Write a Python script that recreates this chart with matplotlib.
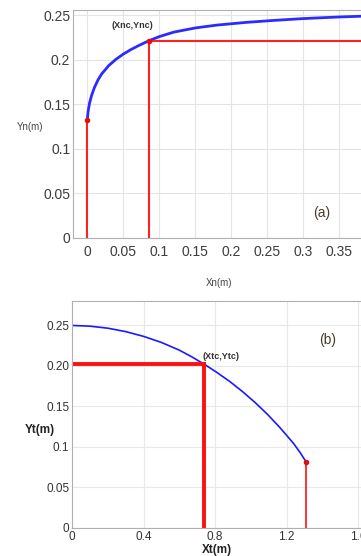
import matplotlib.pyplot as plt

plt.rcParams['font.family'] = ['Liberation Sans', 'DejaVu Sans']

# panel (a): curve
xn = [0.0, 0.001, 0.003, 0.006, 0.01, 0.015, 0.02, 0.03, 0.04, 0.05, 0.06, 0.07, 0.085,
      0.1, 0.12, 0.15, 0.18, 0.22, 0.26, 0.3, 0.35, 0.42]
yn = [0.132, 0.1415, 0.151, 0.160, 0.169, 0.1775, 0.184, 0.1935, 0.2005, 0.2062, 0.211,
      0.2152, 0.221, 0.2258, 0.2308, 0.2355, 0.2387, 0.2417, 0.244, 0.246, 0.2478, 0.2497]
xnc, ync = 0.085, 0.221
xn0, yn0 = 0.0, 0.132
xn_ticks = [0, 0.05, 0.1, 0.15, 0.2, 0.25, 0.3, 0.35]
xn_labels = ['0', '0.05', '0.1', '0.15', '0.2', '0.25', '0.3', '0.35']
yn_ticks = [0, 0.05, 0.1, 0.15, 0.2, 0.25]
yn_labels = ['0', '0.05', '0.1', '0.15', '0.2', '0.25']

# panel (b)
xt = [0.0, 0.1, 0.2, 0.3, 0.4, 0.5, 0.6, 0.67, 0.74, 0.81, 0.884, 0.955, 1.024, 1.094,
      1.164, 1.238, 1.274, 1.309]
yt = [0.250, 0.2491, 0.2466, 0.2424, 0.2365, 0.229, 0.2195, 0.2112, 0.202, 0.192, 0.1805,
      0.168, 0.1548, 0.140, 0.1235, 0.1045, 0.0935, 0.0815]
xtc, ytc = 0.74, 0.202
xt1, yt1 = 1.309, 0.0815
xt_ticks = [0, 0.4, 0.8, 1.2, 1.6]
xt_labels = ['0', '0.4', '0.8', '1.2', '1.6']
yt_ticks = [0, 0.05, 0.1, 0.15, 0.2, 0.25]
yt_labels = ['0', '0.05', '0.1', '0.15', '0.20', '0.25']

fig = plt.figure(figsize=(3.61, 5.56), dpi=100)

# ---- (a)
ax1 = fig.add_axes([0.202, 0.572, 0.878, 0.410])
ax1.plot(xn, yn, color='#2b2bff', lw=2)
ax1.plot([xn0, xn0], [0, yn0], color='#ff2020', lw=1.5)
ax1.plot([xnc, xnc], [0, ync], color='#ff2020', lw=1.5)
ax1.plot([xnc, 0.42], [ync, ync], color='#ff2020', lw=1.5)
ax1.plot([xn0, xnc], [yn0, ync], 'o', color='#e01010', ms=3)
ax1.set_xlim(-0.02, 0.42)
ax1.set_ylim(0, 0.2556)
ax1.set_xticks(xn_ticks)
ax1.set_xticklabels(xn_labels)
ax1.set_yticks(yn_ticks)
ax1.set_yticklabels(yn_labels)
ax1.tick_params(labelsize=10, labelcolor='#3c3c3c', length=0, pad=5)
ax1.tick_params(axis='y', pad=2)
ax1.grid(True, color='#e4e4e4', lw=0.8)
for s in ax1.spines.values():
    s.set_color('#b0b0b0')
ax1.text(0.0625, 0.2377, '(Xnc,Ync)', fontsize=6.5, fontweight='bold', color='#333333',
         ha='center', va='center')
ax1.text(0.326, 0.028, '(a)', fontsize=10, color='#4a3b28', ha='center', va='center')
ax1.set_ylabel('Yn(m)', fontsize=7, color='#444444', rotation=0, va='center', ha='center')
ax1.yaxis.set_label_coords(-0.135, 0.487)
ax1.set_xlabel('Xn(m)', fontsize=7, color='#444444', va='center')
ax1.xaxis.set_label_coords(0.46, -0.197)

# ---- (b)
ax2 = fig.add_axes([0.1994, 0.0504, 0.892, 0.408])
ax2.plot(xt, yt, color='#1a1aff', lw=1.2)
ax2.plot([0, xtc], [ytc, ytc], color='#ff1010', lw=2.8)
ax2.plot([xtc, xtc], [0, ytc], color='#ff1010', lw=2.8)
ax2.plot([xt1, xt1], [0, yt1], color='#ff1010', lw=1.2)
ax2.plot([xt1], [yt1], 'o', color='#e01010', ms=3)
ax2.set_xlim(0, 1.8)
ax2.set_ylim(0, 0.28)
ax2.set_xticks(xt_ticks)
ax2.set_xticklabels(xt_labels)
ax2.set_yticks(yt_ticks)
ax2.set_yticklabels(yt_labels)
ax2.tick_params(labelsize=8.5, labelcolor='#333333', length=0, pad=2)
ax2.grid(True, color='#e8e8e8', lw=0.8)
for s in ax2.spines.values():
    s.set_color('#b0b0b0')
ax2.text(0.833, 0.212, '(Xtc,Ytc)', fontsize=6.5, fontweight='bold', color='#333333',
         ha='center', va='center')
ax2.text(1.43, 0.2315, '(b)', fontsize=10, color='#4a3b28', ha='center', va='center')
ax2.set_ylabel('Yt(m)', fontsize=8.5, fontweight='bold', color='#222222', rotation=0,
               va='center', ha='center')
ax2.yaxis.set_label_coords(-0.099, 0.43)
ax2.set_xlabel('Xt(m)', fontsize=8.5, fontweight='bold', color='#222222', va='center')
ax2.xaxis.set_label_coords(0.45, -0.097)

fig.savefig('out.png', dpi=100)
